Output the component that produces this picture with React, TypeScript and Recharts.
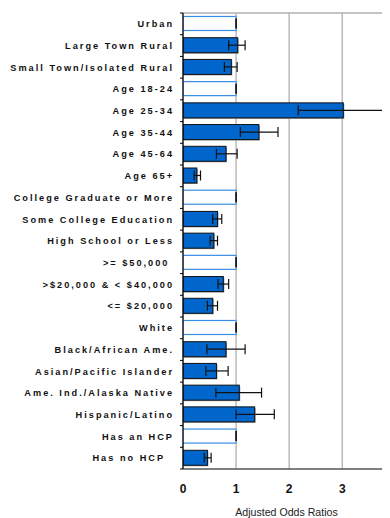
import React from "react";
import {
  BarChart,
  Bar,
  XAxis,
  YAxis,
  CartesianGrid,
  ErrorBar,
} from "recharts";

// Odds ratios with 95% confidence limits; reference groups sit at 1.
const categories = [
  "Urban",
  "Large Town Rural",
  "Small Town/Isolated Rural",
  "Age 18-24",
  "Age 25-34",
  "Age 35-44",
  "Age 45-64",
  "Age 65+",
  "College Graduate or More",
  "Some College Education",
  "High School or Less",
  ">= $50,000 ",
  ">$20,000 & < $40,000",
  "<= $20,000",
  "White",
  "Black/African Ame.",
  "Asian/Pacific Islander",
  "Ame. Ind./Alaska Native",
  "Hispanic/Latino",
  "Has an HCP",
  "Has no HCP  ",
];

const oddsRatios = [
  1, 1.03, 0.91, 1, 3.02, 1.43, 0.81, 0.26, 1, 0.65, 0.58, 1, 0.76, 0.56, 1,
  0.81, 0.63, 1.06, 1.35, 1, 0.46,
];

const lowerCI = [
  1, 0.86, 0.78, 1, 2.17, 1.08, 0.63, 0.21, 1, 0.56, 0.51, 1, 0.66, 0.46, 1,
  0.45, 0.43, 0.62, 1.0, 1, 0.4,
];

const upperCI = [
  1, 1.17, 1.02, 1, 3.88, 1.79, 1.02, 0.33, 1, 0.73, 0.65, 1, 0.86, 0.65, 1,
  1.17, 0.85, 1.48, 1.72, 1, 0.53,
];

const isReference = [
  true, false, false, true, false, false, false, false, true, false, false,
  true, false, false, true, false, false, false, false, true, false,
];

const xTicks = [0, 1, 2, 3];

const data = categories.map((name, i) => ({
  name,
  value: oddsRatios[i],
  err: [oddsRatios[i] - lowerCI[i], upperCI[i] - oddsRatios[i]],
  ref: isReference[i],
}));

const CHART_W = 382;
const CHART_H = 510;
const MARGIN = { top: 5, right: 0, bottom: 2, left: 0 };
const Y_AXIS_W = 175;
const X_AXIS_H = 47;
const PLOT_H = CHART_H - MARGIN.top - MARGIN.bottom - X_AXIS_H;
const HALF_BAND = PLOT_H / categories.length / 2;
const Y_TICK_MARGIN = 10;

const BLUE = "#0066CC";
const REF_STROKE = "#3A8EE6";

const CategoryTick = (props: any) => {
  const { x, y, payload, index } = props;
  const axisX = x + Y_TICK_MARGIN;
  const last = index === categories.length - 1;
  return (
    <g>
      <line
        x1={axisX - 3}
        x2={axisX}
        y1={y - HALF_BAND}
        y2={y - HALF_BAND}
        stroke="#000"
        strokeWidth={1}
      />
      {last && (
        <line
          x1={axisX - 3}
          x2={axisX}
          y1={y + HALF_BAND}
          y2={y + HALF_BAND}
          stroke="#000"
          strokeWidth={1}
        />
      )}
      <text
        x={x + 1}
        y={y}
        dy="0.36em"
        textAnchor="end"
        fontFamily="'Liberation Sans', Arial, sans-serif"
        fontSize={9.2}
        fontWeight="bold"
        letterSpacing={2}
        fill="#111"
        style={{ whiteSpace: "pre" }}
      >
        {payload.value}
      </text>
    </g>
  );
};

const OddsBar = (props: any) => {
  const { x, y, width, height, payload } = props;
  if (width <= 0) return null;
  if (payload.ref) {
    return (
      <rect
        x={x}
        y={y + 0.5}
        width={width}
        height={height - 1}
        fill="#fff"
        stroke={REF_STROKE}
        strokeWidth={1.2}
      />
    );
  }
  return (
    <g>
      <rect x={x + 1} y={y + 1} width={width} height={height} fill="#9a9a9a" />
      <rect
        x={x}
        y={y}
        width={width}
        height={height}
        fill={BLUE}
        stroke="#111"
        strokeWidth={1}
      />
    </g>
  );
};

export default function App() {
  return (
    <BarChart
      width={CHART_W}
      height={CHART_H}
      data={data}
      layout="vertical"
      margin={MARGIN}
    >
      <CartesianGrid
        vertical
        horizontal
        stroke="#b0b0b0"
        strokeWidth={1.3}
        horizontalCoordinatesGenerator={({ offset }: any) => [offset.top]}
      />
      <XAxis
        type="number"
        domain={[0, 3.9]}
        ticks={xTicks}
        allowDataOverflow
        height={X_AXIS_H}
        tickLine={false}
        tickSize={0}
        tickMargin={15}
        axisLine={{ stroke: "#555", strokeWidth: 1.5 }}
        tick={{
          fontFamily: "'Liberation Sans', Arial, sans-serif",
          fontSize: 12,
          fontWeight: "bold",
          fill: "#111",
        }}
        label={{
          value: "Adjusted Odds Ratios",
          position: "insideBottom",
          offset: 0,
          style: {
            fontFamily: "'Liberation Sans', Arial, sans-serif",
            fontSize: 10.6,
            fill: "#222",
          },
        }}
      />
      <YAxis
        type="category"
        dataKey="name"
        width={Y_AXIS_W}
        tickLine={false}
        tickSize={0}
        tickMargin={Y_TICK_MARGIN}
        interval={0}
        axisLine={{ stroke: "#000", strokeWidth: 1.2 }}
        tick={<CategoryTick />}
      />
      <Bar dataKey="value" barSize={15} shape={<OddsBar />} isAnimationActive={false}>
        <ErrorBar
          dataKey="err"
          direction="x"
          width={5}
          stroke="#111"
          strokeWidth={1.2}
          isAnimationActive={false}
        />
      </Bar>
    </BarChart>
  );
}
